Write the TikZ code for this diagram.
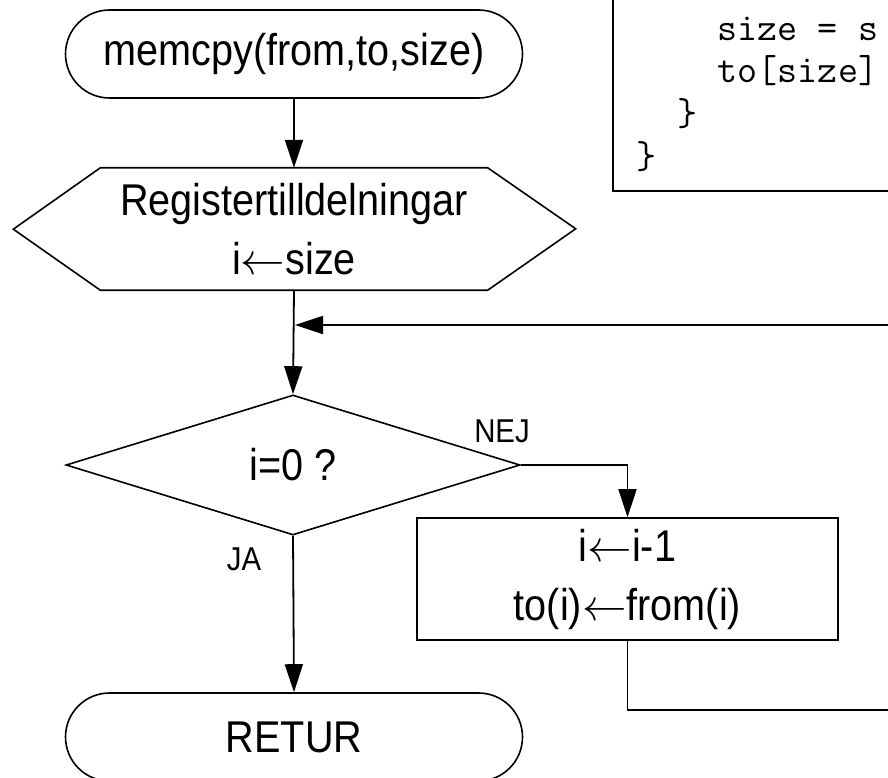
\RequirePackage{fix-cm}
\documentclass[tikz,border=0pt]{standalone}
\usepackage{fontspec}
\setmainfont{Liberation Sans}[FakeStretch=0.89]
\usetikzlibrary{arrows.meta,shapes.geometric}
\newcommand\mainfs{\fontsize{44.5pt}{59pt}\selectfont}
\newcommand\lblfs{\fontsize{33pt}{40pt}\selectfont}
\newcommand\codefs{\ttfamily\fontsize{38.9pt}{42pt}\selectfont}
\newcommand\asgn{\(\leftarrow\)}
\begin{document}
\begin{tikzpicture}[x=1pt,y=-1pt,
  flow/.style={draw, line width=1.8pt, -{Triangle[length=28pt,width=18pt]}},
  terminal/.style={draw, line width=1.6pt, rectangle, rounded corners=44pt,
    minimum width=457pt, minimum height=88pt, inner sep=0pt, font=\mainfs},
  hextext/.style={rectangle, minimum width=387pt, minimum height=122pt,
    inner sep=0pt, align=center, font=\mainfs},
  decision/.style={draw, line width=1.6pt, diamond, aspect=3.243,
    minimum width=454pt, minimum height=140pt, inner sep=0pt, font=\mainfs},
  process/.style={draw, line width=1.6pt, rectangle, minimum width=421pt,
    minimum height=122pt, inner sep=0pt, align=center, font=\mainfs},
  lbl/.style={inner sep=0pt, anchor=base, font=\lblfs},
  codetxt/.style={inner sep=0pt, anchor=base west, font=\codefs},
  codebox/.style={draw, line width=2.2pt}]
\useasboundingbox (0,0) rectangle (888,778);
\clip (0,0) rectangle (888,778);

% code box (cut by the picture's edges)
\draw[codebox] (613,-20) rectangle (940,191);
\node[codetxt] (c1) at (717.6,41) {size = s};
\node[codetxt] (c2) at (717.6,83) {to[size]};
\node[codetxt] (c3) at (676.8,126) {\}};
\node[codetxt] (c4) at (636,168) {\}};

% flowchart nodes
\node[terminal] (start) at (294,54) {memcpy(from,to,size)};
\node[hextext] (regs) at (294,229) {Registertilldelningar\\i\asgn size};
\draw[line width=1.6pt] (regs.north west) -- (regs.north east) -- ++(88,61)
  -- (regs.south east) -- (regs.south west) -- ++(-87,-61) -- cycle;
\node[decision] (test) at (293,465) {i=0 ?};
\node[process] (upd) at (627.5,579) {i\asgn i-1\\to(i)\asgn from(i)};
\node[terminal] (ret) at (294,737) {RETUR};

\node[lbl] (nej) at (502,442) {NEJ};
\node[lbl] (ja) at (244,570) {JA};

% connectors
\coordinate (loopR1) at (920,710);
\coordinate (merge) at (295,325);
\draw[flow] (start.south) -- (regs.north);
\draw[flow] (regs.south) -- (test.north);
\draw[flow] (test.east) -| (upd.north);
\draw[flow] (test.south) -- (ret.north);
\draw[flow] (upd.south) |- (loopR1) |- (merge);
\end{tikzpicture}
\end{document}
